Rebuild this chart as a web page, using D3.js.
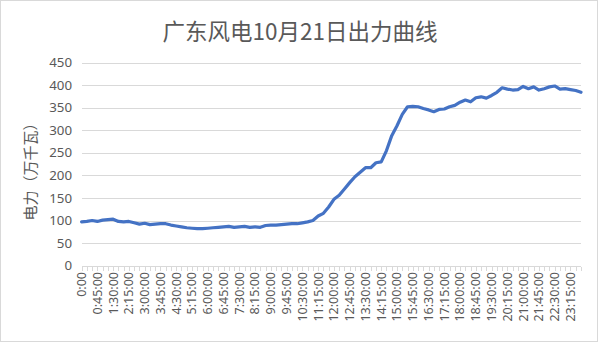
<!DOCTYPE html>
<meta charset="utf-8">
<style>
body { margin: 0; background: #fff; }
text { fill: #595959; }
.grid line { stroke: #d9d9d9; stroke-width: 1; shape-rendering: crispEdges; }
.x.axis path, .x.axis line { stroke: #d9d9d9; shape-rendering: crispEdges; }
</style>
<body>
<div id="chart"></div>
<script src="https://d3js.org/d3.v7.min.js"></script>
<script>

// 96 quarter-hour points
var times = [];
for (var h = 0; h < 24; h++) {
  ["00", "15", "30", "45"].forEach(function(m) { times.push(h + ":" + m); });
}

var power = [
  97, 98, 100, 98, 101, 102, 103, 98, 97, 98, 95, 92,
  94, 91, 92, 93, 93, 90, 88, 86, 84, 83, 82, 82,
  83, 84, 85, 86, 87, 85, 86, 87, 85, 86, 85, 89,
  90, 90, 91, 92, 93, 93, 95, 97, 100, 110, 116, 130,
  147, 156, 170, 184, 197, 207, 217, 217, 228, 230, 255, 288,
  310, 335, 352, 353, 352, 348, 345, 341, 346, 347, 352, 355,
  362, 367, 363, 372, 374, 371, 377, 384, 394, 391, 389, 390,
  397, 392, 396, 389, 392, 396, 398, 391, 392, 390, 388, 384
];

// labels shown every 3rd category
var tickLabels = [
  "0:00", "0:45:00", "1:30:00", "2:15:00", "3:00:00", "3:45:00", "4:30:00", "5:15:00",
  "6:00:00", "6:45:00", "7:30:00", "8:15:00", "9:00:00", "9:45:00", "10:30:00", "11:15:00",
  "12:00:00", "12:45:00", "13:30:00", "14:15:00", "15:00:00", "15:45:00", "16:30:00", "17:15:00",
  "18:00:00", "18:45:00", "19:30:00", "20:15:00", "21:00:00", "21:45:00", "22:30:00", "23:15:00"
];

var yTicks = [0, 50, 100, 150, 200, 250, 300, 350, 400, 450];

var width = 600, height = 343;
var plot = {left: 81.6, right: 581, top: 62.5, bottom: 265.7};
var font = "'Segoe UI', 'Noto Sans', 'Open Sans', sans-serif";
var cjk = "'Noto Sans CJK SC', sans-serif";

var svg = d3.select("#chart").append("svg")
  .attr("width", width)
  .attr("height", height);

svg.append("rect")
  .attr("x", 0.5).attr("y", 0.5)
  .attr("width", 597).attr("height", 341)
  .attr("fill", "#fff")
  .attr("stroke", "#d9d9d9");

var x = d3.scalePoint().domain(times).range([plot.left, plot.right]);
var y = d3.scaleLinear().domain([0, 450]).range([plot.bottom, plot.top]);

// gridlines
svg.append("g").attr("class", "grid")
  .selectAll("line")
  .data(yTicks.slice(1))
  .enter().append("line")
  .attr("x1", plot.left).attr("x2", plot.right)
  .attr("y1", function(d) { return Math.round(y(d)) + 0.5; })
  .attr("y2", function(d) { return Math.round(y(d)) + 0.5; });

// y axis labels
svg.append("g")
  .selectAll("text")
  .data(yTicks)
  .enter().append("text")
  .attr("x", 72)
  .attr("y", function(d) { return y(d); })
  .attr("dy", "0.35em")
  .attr("text-anchor", "end")
  .style("font-family", font)
  .style("font-size", "13.3px")
  .text(function(d) { return d; });

// x axis
var xAxis = d3.axisBottom(x)
  .tickSize(4)
  .tickSizeOuter(0)
  .tickFormat("");

var gx = svg.append("g")
  .attr("class", "x axis")
  .attr("transform", "translate(0," + (Math.round(plot.bottom) + 0.5) + ")")
  .call(xAxis);
gx.select(".domain").attr("d", "M" + plot.left + ",0H" + plot.right);

svg.append("g")
  .selectAll("text")
  .data(tickLabels)
  .enter().append("text")
  .attr("transform", function(d, i) {
    return "translate(" + x(times[i * 3]) + ",272) rotate(-90)";
  })
  .attr("dy", "0.35em")
  .attr("text-anchor", "end")
  .style("font-family", font)
  .style("font-size", "12.5px")
  .text(function(d) { return d; });

// line
var line = d3.line()
  .x(function(d, i) { return x(times[i]); })
  .y(function(d) { return y(d); });

svg.append("path")
  .datum(power)
  .attr("d", line)
  .attr("fill", "none")
  .attr("stroke", "#4472C4")
  .attr("stroke-width", 3.2)
  .attr("stroke-linejoin", "round")
  .attr("stroke-linecap", "round");

// title
svg.append("text")
  .attr("x", 300)
  .attr("y", 40)
  .attr("text-anchor", "middle")
  .style("font-family", cjk)
  .style("font-size", "22.5px")
  .text("广东风电10月21日出力曲线");

// y axis title
svg.append("text")
  .attr("transform", "translate(31,168) rotate(-90)")
  .attr("dy", "0.35em")
  .attr("text-anchor", "middle")
  .style("font-family", cjk)
  .style("font-size", "15px")
  .text("电力（万千瓦）");

</script>
</body>
